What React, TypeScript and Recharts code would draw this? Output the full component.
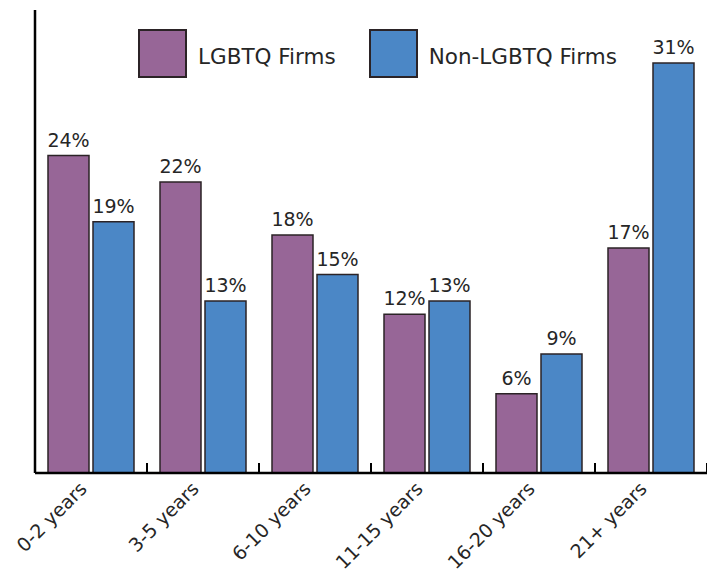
import React from "react";
import {
  BarChart,
  Bar,
  XAxis,
  YAxis,
  Legend,
  LabelList,
} from "recharts";

const categories = [
  "0-2 years",
  "3-5 years",
  "6-10 years",
  "11-15 years",
  "16-20 years",
  "21+ years",
];
const lgbtqValues = [24, 22, 18, 12, 6, 17];
const nonLgbtqValues = [19, 13, 15, 13, 9, 31];

const data = categories.map((name, i) => ({
  name,
  lgbtq: lgbtqValues[i],
  nonLgbtq: nonLgbtqValues[i],
}));

const PURPLE = "#976697";
const BLUE = "#4b87c6";
const OUTLINE = "#2b2326";
const TEXT = "#262626";
const FONT = "'DejaVu Sans', sans-serif";

const CHART_W = 707;
const CHART_H = 565;
const X_AXIS_H = 100;
const MARGIN = { top: 2, right: 8, bottom: 0, left: 26 };
const BAND = (CHART_W - MARGIN.left - 1 - MARGIN.right) / categories.length;

const XTick = (props: any) => {
  const { x, y, payload } = props;
  const axisY = CHART_H - X_AXIS_H;
  const edge = x + BAND / 2;
  return (
    <g>
      <line x1={edge} x2={edge} y1={axisY} y2={axisY - 10} stroke="#000" strokeWidth={2} />
      <g transform={`translate(${x - 3},${y + 9})`}>
        <text
          textAnchor="end"
          transform="rotate(-45)"
          fontSize={19}
          fontFamily={FONT}
          fill={TEXT}
        >
          {payload.value}
        </text>
      </g>
    </g>
  );
};

const LegendContent = () => {
  const items = [
    { label: "LGBTQ Firms", color: PURPLE },
    { label: "Non-LGBTQ Firms", color: BLUE },
  ];
  return (
    <div style={{ display: "flex", alignItems: "center" }}>
      {items.map((it) => (
        <div
          key={it.label}
          style={{ display: "flex", alignItems: "center", marginRight: 33 }}
        >
          <div
            style={{
              width: 45,
              height: 45,
              background: it.color,
              border: `2px solid ${OUTLINE}`,
            }}
          />
          <span
            style={{
              marginLeft: 11,
              fontSize: 21.5,
              fontFamily: FONT,
              color: TEXT,
              marginTop: 6,
            }}
          >
            {it.label}
          </span>
        </div>
      ))}
    </div>
  );
};

const App: React.FC = () => {
  return (
    <BarChart
      width={CHART_W}
      height={CHART_H}
      data={data}
      margin={MARGIN}
      barCategoryGap={13}
      barGap={4}
    >
      <XAxis
        dataKey="name"
        height={X_AXIS_H}
        axisLine={{ stroke: "#000", strokeWidth: 2.5 }}
        tickLine={false}
        tick={<XTick />}
        interval={0}
      />
      <YAxis
        domain={[0, 35]}
        width={1}
        tick={false}
        tickLine={false}
        axisLine={{ stroke: "#000", strokeWidth: 2.5 }}
      />
      <Legend
        layout="horizontal"
        verticalAlign="middle"
        align="center"
        content={<LegendContent />}
        wrapperStyle={{ top: 21, left: 130, width: 570 }}
      />
      <Bar
        dataKey="lgbtq"
        fill={PURPLE}
        stroke={OUTLINE}
        strokeWidth={1.5}
        isAnimationActive={false}
      >
        <LabelList
          dataKey="lgbtq"
          position="top"
          offset={9}
          formatter={(v: any) => `${v}%`}
          style={{ fontSize: 19, fontFamily: FONT, fill: TEXT }}
        />
      </Bar>
      <Bar
        dataKey="nonLgbtq"
        fill={BLUE}
        stroke={OUTLINE}
        strokeWidth={1.5}
        isAnimationActive={false}
      >
        <LabelList
          dataKey="nonLgbtq"
          position="top"
          offset={9}
          formatter={(v: any) => `${v}%`}
          style={{ fontSize: 19, fontFamily: FONT, fill: TEXT }}
        />
      </Bar>
    </BarChart>
  );
};

export default App;
